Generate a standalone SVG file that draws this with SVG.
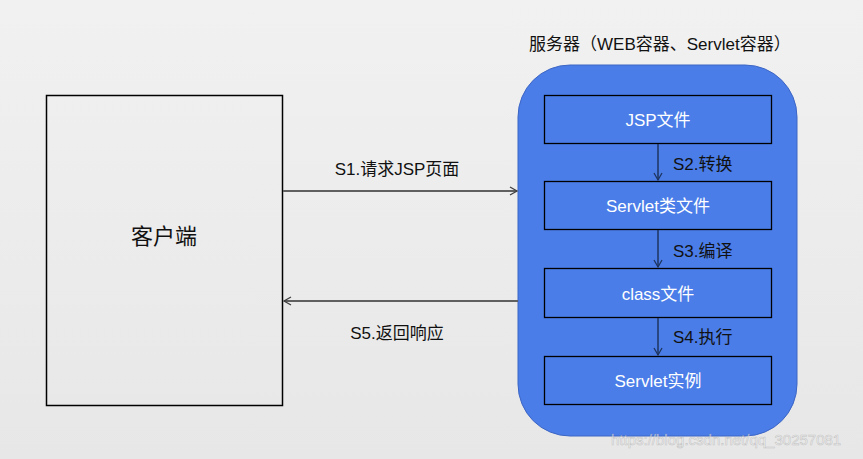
<svg xmlns="http://www.w3.org/2000/svg" width="863" height="459" viewBox="0 0 863 459">
<defs>
<linearGradient id="bg" x1="0" y1="0" x2="0" y2="1">
<stop offset="0" stop-color="#f1f1f1"/>
<stop offset="1" stop-color="#e7e7e7"/>
</linearGradient>
<marker id="open" markerWidth="10" markerHeight="10" refX="8" refY="5" orient="auto" markerUnits="userSpaceOnUse">
<path d="M1,1 L8,5 L1,9" fill="none" stroke="#404040" stroke-width="1.3"/>
</marker>
<marker id="down" markerWidth="10" markerHeight="10" refX="8" refY="5" orient="auto" markerUnits="userSpaceOnUse">
<path d="M1,1 L8,5 L1,9" fill="none" stroke="#1e3560" stroke-width="1.3"/>
</marker>
</defs>
<style>
.t{font-family:"Liberation Sans","Noto Sans CJK SC",sans-serif;font-size:17px;fill:#111}
.w{font-family:"Liberation Sans","Noto Sans CJK SC",sans-serif;font-size:17px;fill:#ffffff;text-anchor:middle}
.box{fill:#4a7de8;stroke:#000;stroke-width:1.3}
.h{stroke:#606060;stroke-width:2;fill:none}
.v{stroke:#1e3560;stroke-width:1.5;fill:none}
</style>
<rect width="863" height="459" fill="url(#bg)"/>
<g id="client">
<rect x="46.5" y="95.5" width="236" height="310" fill="none" stroke="#000" stroke-width="1.5"/>
<text x="164" y="244" class="t" style="font-size:22px" text-anchor="middle">客户端</text>
</g>
<g id="server">
<text x="529" y="50" class="t">服务器（WEB容器、Servlet容器）</text>
<rect x="518" y="65" width="279" height="371" rx="52" ry="52" fill="#4a7de8" stroke="#3d66c4" stroke-width="1"/>
</g>
<g id="jsp">
<rect class="box" x="544.5" y="95.5" width="227" height="48"/>
<text x="658" y="126" class="w">JSP文件</text>
</g>
<g id="servletclass">
<rect class="box" x="544.5" y="181.5" width="227" height="48"/>
<text x="658" y="212" class="w">Servlet类文件</text>
</g>
<g id="classfile">
<rect class="box" x="544.5" y="268.5" width="227" height="49"/>
<text x="658" y="300" class="w">class文件</text>
</g>
<g id="instance">
<rect class="box" x="544.5" y="356.5" width="227" height="48"/>
<text x="658" y="387" class="w">Servlet实例</text>
</g>
<g id="connectors">
<line class="h" x1="283" y1="191" x2="517" y2="191" marker-end="url(#open)"/>
<text x="397" y="175" class="t" text-anchor="middle">S1.请求JSP页面</text>
<line class="h" x1="518" y1="301" x2="284" y2="301" marker-end="url(#open)"/>
<text x="397" y="339" class="t" text-anchor="middle">S5.返回响应</text>
<line class="v" x1="658" y1="144" x2="658" y2="180" marker-end="url(#down)"/>
<text x="673" y="170" class="t">S2.转换</text>
<line class="v" x1="658" y1="230" x2="658" y2="267" marker-end="url(#down)"/>
<text x="673" y="257" class="t">S3.编译</text>
<line class="v" x1="658" y1="318" x2="658" y2="355" marker-end="url(#down)"/>
<text x="673" y="343" class="t">S4.执行</text>
</g>
<text x="611" y="445" style="font-family:'Liberation Sans',sans-serif;font-size:15px;fill:#ffffff;fill-opacity:0.55;stroke:#9a9a9a;stroke-opacity:0.5;stroke-width:0.6">https://blog.csdn.net/qq_30257081</text>
</svg>
